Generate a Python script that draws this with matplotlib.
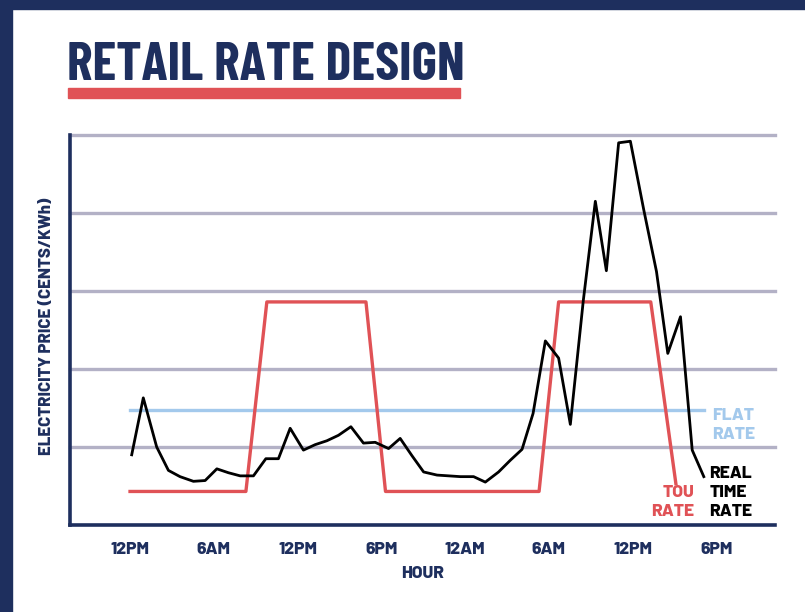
import matplotlib.pyplot as plt
from matplotlib.patches import Rectangle

# colours
NAVY = '#1e2f5e'
RED = '#e05256'
BLUE = '#a3c9ec'
GRID = '#b3b1c6'

# hours since the first 12PM
rt_hours = [0.12, 0.95, 1.91, 2.75, 3.58, 4.54, 5.38, 6.22, 7.05, 7.89, 8.84,
            9.73, 10.63, 11.47, 12.42, 13.26, 14.10, 14.93, 15.82, 16.72,
            17.56, 18.52, 19.35, 20.19, 21.03, 21.99, 22.83, 23.66, 24.61,
            25.45, 26.40, 27.24, 28.08, 28.87, 29.75, 30.70, 31.54, 32.47,
            33.33, 34.12, 35.00, 35.84, 36.80, 37.71, 38.52, 39.43, 40.27,
            41.10]
rt_price = [9.0, 16.3, 10.0, 7.0, 6.2, 5.6, 5.7, 7.2, 6.7, 6.3, 6.3,
            8.5, 8.5, 12.4, 9.6, 10.3, 10.8, 11.5, 12.6, 10.5,
            10.6, 9.8, 11.1, 8.9, 6.8, 6.4, 6.3, 6.2, 6.2,
            5.5, 6.8, 8.3, 9.7, 14.3, 23.6, 21.4, 12.9, 28.8,
            41.5, 32.6, 49.0, 49.2, 40.4, 32.5, 22.0, 26.7, 9.6,
            6.2]

tou_hours = [0.0, 8.3, 9.8, 16.9, 18.3, 29.3, 30.7, 37.3, 39.1]
tou_price = [4.3, 4.3, 28.6, 28.6, 4.3, 4.3, 28.6, 28.6, 5.3]

flat_hours = [0.0, 41.1]
flat_price = [14.8, 14.8]

tick_hours = [0, 6, 12, 18, 24, 30, 36, 42]
tick_labels = ['12PM', '6AM', '12PM', '6PM', '12AM', '6AM', '12PM', '6PM']

plt.rcParams['font.family'] = ['Barlow', 'DejaVu Sans']
TITLE_FONT = ['Barlow Condensed', 'DejaVu Sans']
HEAVY = 800

fig = plt.figure(figsize=(8.05, 6.12), dpi=100)

# navy frame on top and left
fig.patches.append(Rectangle((0, 1 - 9 / 612), 1, 9 / 612, transform=fig.transFigure,
                             color=NAVY, zorder=0))
fig.patches.append(Rectangle((0, 0), 12 / 805, 1, transform=fig.transFigure,
                             color=NAVY, zorder=0))

# title and red underline
fig.text(67 / 805, 1 - 80 / 612, 'RETAIL RATE DESIGN', color=NAVY, fontsize=39,
         fontweight='bold', ha='left', va='baseline', family=TITLE_FONT)
fig.patches.append(Rectangle((68 / 805, 1 - 98 / 612), 392 / 805, 10 / 612,
                             transform=fig.transFigure, color=RED, zorder=1))

ax = fig.add_axes([70 / 805, 1 - 525 / 612, 705 / 805, 390 / 612])
ax.set_xlim(-4.3, 46.2)
ax.set_ylim(0, 50)

for v in [10, 20, 30, 40, 50]:
    ax.axhline(v, color=GRID, lw=2.4, zorder=1, clip_on=False)

ax.plot(flat_hours, flat_price, color=BLUE, lw=2.4, zorder=2)
ax.plot(tou_hours, tou_price, color=RED, lw=2.4, zorder=3)
ax.plot(rt_hours, rt_price, color='black', lw=2.0, zorder=4)

# line labels
ax.text(41.7, 15.0, 'FLAT\nRATE', color=BLUE, fontsize=12.5, fontweight=HEAVY,
        ha='left', va='top', linespacing=1.3)
ax.text(41.5, 7.5, 'REAL\nTIME\nRATE', color='black', fontsize=12.5, fontweight=HEAVY,
        ha='left', va='top', linespacing=1.3)
ax.text(40.4, 5.1, 'TOU\nRATE', color=RED, fontsize=12.5, fontweight=HEAVY,
        ha='right', va='top', linespacing=1.3)

for s in ['top', 'right']:
    ax.spines[s].set_visible(False)
for s in ['left', 'bottom']:
    ax.spines[s].set_color(NAVY)
    ax.spines[s].set_linewidth(2.6)

ax.set_xticks(tick_hours)
ax.set_xticklabels(tick_labels, fontsize=12.5, fontweight=HEAVY, color=NAVY)
ax.set_yticks([])
ax.tick_params(axis='x', length=0, pad=12)
ax.set_xlabel('HOUR', fontsize=12.5, fontweight=HEAVY, color=NAVY, labelpad=7)

fig.text(46 / 805, 1 - 326 / 612, 'ELECTRICITY PRICE (CENTS/KWh)', rotation=90,
         color=NAVY, fontsize=12, fontweight=HEAVY, ha='center', va='center')

fig.savefig('out.png', dpi=100)
